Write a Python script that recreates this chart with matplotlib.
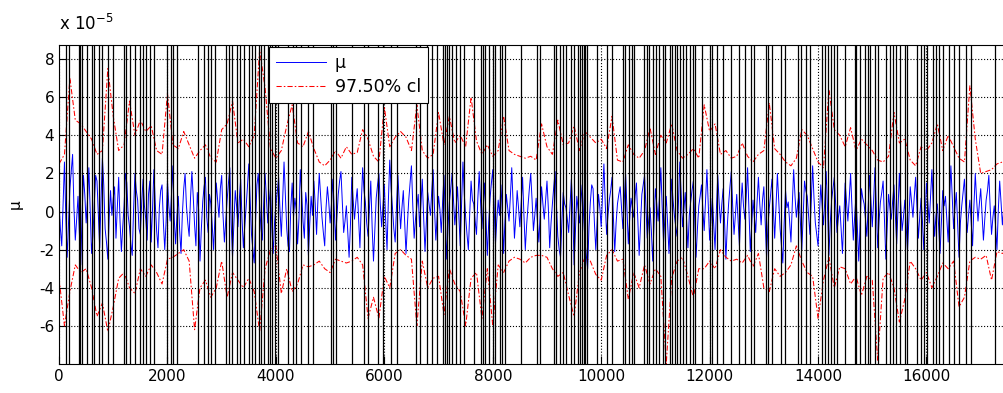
import numpy as np
import matplotlib
matplotlib.use("Agg")
import matplotlib.pyplot as plt
from matplotlib.ticker import FuncFormatter

# mean estimate (units of 1e-5), sampled every 25
mu_step = 25
mu_vals = [
    0.5, -0.9, -1.8, 0.4, 2.6, -0.3, -2.4, -0.6, 1.2, 2.1,
    3.0, 0.2, -1.5, -0.4, 0.8, -1.1, -2.8, -0.2, 1.9, 0.9,
    -0.6, 0.6, 2.3, 0.1, -2.2, -1.3, 0.4, 1.9, 1.6, -0.2,
    -1.9, 0.7, 2.8, 1.4, -0.9, -1.6, -2.5, -0.3, 1.1, -0.2,
    0.7, 1.3, -1.4, 0.2, 1.8, -0.5, -2.1, -0.8, 0.3, 2.0,
    1.5, -0.2, -0.8, -1.7, -2.3, 0.1, 2.0, 1.1, 0.6, -0.9,
    -1.2, 0.5, 1.7, 0.3, -0.4, -1.5, 0.9, 1.6, -1.6, 0.2,
    2.2, 0.4, -1.0, -1.9, 0.2, 1.1, 1.4, -0.6, -2.0, -0.5,
    1.6, 0.3, -0.5, 0.9, 2.4, -0.4, -1.7, -0.2, 0.8, -1.0,
    -2.2, -0.1, 1.2, 2.0, 0.3, -0.6, -1.3, 0.7, 2.1, 0.8,
    -0.7, -1.8, 1.0, 0.1, -2.6, -0.9, 0.5, 1.3, 1.8, -0.3,
    -1.1, 0.9, 0.4, -0.7, -2.0, -0.4, 1.5, 0.6, -0.3, 1.2,
    1.9, -0.2, -1.6, -0.5, 0.6, 1.5, 2.3, -0.6, -2.4, -0.7,
    1.1, 0.3, -0.8, 0.6, 1.7, -0.4, -1.9, -0.8, 0.2, 1.3,
    2.5, 0.6, -1.2, -2.0, -2.7, -0.5, 1.4, 2.0, 0.3, -0.9,
    -1.5, 0.4, 2.0, 0.7, -0.6, 0.5, 1.2, -0.8, -2.2, -0.6,
    0.4, 1.0, 1.8, 0.1, -1.3, 0.6, 2.6, 0.9, -0.9, -1.8,
    -2.1, 0.2, 1.5, -0.3, 0.7, 0.1, -1.7, -0.4, 2.2, 1.0,
    -0.5, -1.4, 1.0, 0.3, -2.3, -0.6, 0.8, -0.2, 1.6, 0.4,
    -1.2, 0.6, 2.0, 0.8, -0.3, -1.1, -1.8, 0.2, 1.3, 0.5,
    -0.6, 0.4, 1.7, 0.2, -1.5, -0.3, 0.9, 1.6, 2.1, 0.5,
    -1.1, -0.5, 0.3, -1.0, -2.4, -0.7, 1.8, 0.6, -0.4, 0.5,
    1.2, -0.3, -1.9, 0.4, 2.3, 1.1, 0.5, -0.6, -1.3, 0.2,
    1.6, -0.8, -2.6, -1.0, 0.7, 1.4, 2.0, 0.4, -0.8, 0.3,
    1.4, -0.5, -2.0, 0.6, 2.7, 1.2, 0.2, -0.9, -1.6, 0.3,
    1.9, 0.5, -0.9, 0.2, 1.1, -0.6, -2.2, -0.7, 0.6, 1.5,
    2.4, 0.3, -1.4, -0.4, 0.3, 0.9, -0.8, 0.4, 1.7, -0.3,
    -2.1, -0.5, 1.0, 0.4, -0.2, 1.1, 2.2, 0.2, -1.5, -0.2,
    0.8, 0.1, -1.1, 0.5, 1.9, -0.4, -2.5, -0.8, 0.5, 1.2,
    2.0, 0.6, -0.7, 0.2, 1.3, -0.2, -1.8, 0.4, 2.6, 0.9,
    -0.3, -1.2, -2.0, -0.1, 1.6, 0.6, 0.4, -0.5, -1.2, 0.7,
    2.1, 0.5, -0.9, 0.3, 1.5, -0.4, -2.3, -0.6, 0.7, 1.5,
    2.2, 0.3, -1.7, -0.4, 0.6, -0.2, 1.4, 0.1, -2.2, -0.5,
    0.9, 0.2, -0.5, 0.8, 2.3, 0.4, -1.4, -0.3, 1.1, 0.2,
    -0.8, 0.5, 1.8, -0.2, -2.0, -0.7, 0.3, 1.2, 2.0, 0.6,
    -1.0, -0.2, 0.7, -0.6, -1.6, -0.1, 1.3, 0.4, -0.4, 0.6,
    1.6, 0.2, -1.9, -0.6, 0.4, 1.3, 2.1, 0.3, -1.3, -2.0,
    -2.4, -0.5, 1.0, 0.4, 0.2, -0.4, -1.1, 0.3, 1.7, 0.1,
    -2.8, -1.0, 0.8, 0.1, -0.6, 0.5, 1.4, -0.2, -1.5, -2.3,
    -3.0, -0.8, 0.5, 1.4, 1.2, -0.6, -2.0, -0.5, 0.9, 0.2,
    -0.8, 0.9, 2.5, 0.4, -1.2, -0.2, 0.6, 1.1, 1.8, -0.3,
    -2.1, -0.6, 0.4, 0.9, 1.3, 0.2, -0.9, 0.6, 2.0, 0.1,
    -1.7, -0.4, 0.7, 0.2, -0.3, 0.8, 1.5, -0.4, -2.3, -0.7,
    0.9, 1.4, 1.9, 0.3, -1.4, -0.5, 0.2, -1.0, -2.6, -0.6,
    1.2, 0.4, -0.5, 0.8, 2.3, 0.2, -1.6, -0.3, 0.8, -0.6,
    -2.2, -0.4, 1.7, 0.6, -0.2, -0.8, -1.3, 0.5, 2.6, 0.9,
    -0.8, 0.1, 1.0, -0.5, -1.9, -0.2, 0.5, 1.1, 1.6, -0.4,
    -2.4, -0.9, 0.3, 0.8, 1.4, 0.1, -1.0, 0.6, 2.2, 0.4,
    -1.5, -0.4, 0.7, -0.6, -2.0, 0.1, 1.9, 0.5, -0.6, 0.4,
    1.2, -0.5, -2.5, -0.8, 0.4, 1.3, 2.1, 0.3, -1.2, -0.2,
    0.9, -0.4, -1.8, 0.2, 1.5, 0.3, -0.4, 0.8, 2.3, 0.1,
    -2.1, -0.7, 0.6, -0.3, -1.1, 0.5, 1.8, 0.4, -0.7, 0.6,
    1.3, -0.5, -2.4, -0.8, 0.2, 0.9, 1.7, 0.2, -1.4, 0.3,
    2.0, 0.5, -0.9, -1.8, -2.7, -0.6, 1.1, 0.2, 0.5, -0.5,
    -1.6, 0.4, 2.2, 0.8, -0.3, 0.4, 1.0, -0.6, -2.0, -0.3,
    1.6, 1.1, 0.8, -0.2, -1.2, 0.6, 2.4, 0.7, -0.6, -1.2,
    -1.8, -0.2, 1.4, 0.3, -0.7, 0.6, 2.1, 0.1, -2.3, -0.6,
    0.6, 1.2, 1.8, 0.4, -1.1, -0.3, 0.3, -0.9, -2.2, -0.4,
    1.5, 0.5, -0.5, 0.7, 2.0, 0.2, -1.5, -0.3, 0.9, -0.8,
    -2.6, -0.7, 1.2, 0.7, 0.4, -0.4, -1.3, 0.3, 1.9, 0.5,
    -0.8, 0.6, 2.3, 0.2, -1.9, -0.5, 0.5, 1.0, 1.6, -0.4,
    -2.5, -0.8, 0.9, 0.2, -0.4, 0.5, 1.4, -0.2, -1.7, 0.1,
    2.0, 0.4, -1.0, -0.3, 0.6, -0.7, -2.1, -0.4, 1.3, 0.5,
    -0.3, 0.8, 1.8, 0.2, -1.4, -0.3, 0.7, -0.5, -2.0, -0.2,
    1.5, 0.5, -0.6, 0.8, 2.2, 0.3, -1.3, -0.2, 0.4, -0.8,
    -2.2, -0.5, 1.1, 0.3, 0.8, -0.4, -1.6, 0.6, 2.4, 0.8,
    -0.9, 0.2, 1.0, -0.7, -2.4, -0.6, 0.3, 1.0, 1.7, 0.2,
    -1.1, -0.2, 0.6, -0.6, -1.8, 0.3, 2.0, 0.6, -0.5, 0.4,
    1.2, -0.2, -1.5, -0.4, 0.6, 1.1, 1.9, 0.2, -1.2, -0.3,
    0.3, -0.8, -2.0, 0.1, 1.6, 0.5, -0.7, 0.2, 1.0, 0.8,
    0.4,
]

# 97.5% confidence limits (units of 1e-5), sampled every 100
cl_step = 100
cl_upper = [
    2.5, 3.0, 7.0, 4.8, 4.6, 4.2, 3.8, 3.0, 3.2, 7.5, 5.0, 3.2, 3.5, 5.8, 4.0, 4.8, 4.2, 4.5, 3.2, 3.0,
    6.2, 3.5, 3.3, 4.2, 3.5, 2.8, 3.2, 3.5, 2.8, 2.6,
    4.3, 4.6, 5.8, 3.6, 3.8, 3.4, 4.0, 8.5, 6.5, 3.3, 2.8, 3.2, 4.5, 5.6, 3.6, 3.4, 4.2, 3.3, 2.6, 2.4,
    2.7, 3.2, 2.8, 3.4, 3.0, 3.1, 4.3, 3.8, 2.9,
    2.6, 5.5, 3.4, 3.9, 4.2, 3.9, 3.2, 5.6, 3.2, 2.8, 3.0, 5.2, 3.5, 5.0, 3.6, 4.0, 3.4, 6.0, 3.7, 3.0,
    3.5, 2.9, 3.2, 5.0, 3.2, 3.0, 2.9, 2.8, 2.9, 2.7,
    4.6, 3.4, 3.0, 4.8, 3.5, 3.6, 4.5, 3.2, 4.2, 3.9, 3.6, 3.8, 3.3, 5.0, 2.7, 2.6, 3.5, 3.0, 2.8, 3.2,
    4.4, 3.0, 4.0, 3.6, 4.6, 3.2, 2.8, 3.0, 3.3, 2.8,
    5.6, 4.2, 4.6, 3.0, 3.2, 2.8, 2.9, 3.6, 2.9, 2.6, 3.0, 3.2, 5.7, 3.3, 3.0, 2.6, 2.4, 2.8, 4.3, 4.0,
    3.3, 2.6, 2.3, 6.4, 4.3, 4.0, 3.4, 4.4, 3.2,
    3.8, 3.5, 3.2, 2.7, 2.6, 2.9, 5.2, 3.6, 3.8, 2.7, 2.4, 3.4, 3.2, 3.6, 4.6, 3.2, 4.0, 3.4, 2.8, 2.6,
    6.6, 3.8, 2.0, 2.1, 2.2, 2.5, 2.6, 2.4,
]
cl_lower = [
    -3.5, -6.0, -4.2, -2.8, -3.2, -3.0, -4.0, -5.5, -4.8, -6.3, -5.0, -3.5, -3.2, -4.0, -4.3, -3.0, -3.4, -2.8, -3.2, -3.8,
    -2.5, -2.4, -2.2, -2.0, -2.6, -6.2, -4.0, -3.6, -4.5, -4.0,
    -2.6, -4.5, -3.2, -3.6, -4.0, -3.5, -4.2, -6.3, -3.0, -2.0, -1.8, -4.3, -3.0, -4.2, -3.8, -2.8, -2.9, -2.8, -2.6, -3.0,
    -3.2, -2.5, -2.6, -2.7, -2.6, -2.4, -2.8, -5.6, -4.5,
    -5.6, -3.4, -4.0, -2.2, -2.0, -2.3, -2.5, -6.0, -2.6, -4.0, -3.5, -3.4, -5.4, -3.0, -3.8, -4.2, -6.0, -3.5, -3.2, -5.6,
    -3.0, -6.0, -2.8, -3.2, -2.6, -2.4, -2.5, -2.7, -2.4, -2.3,
    -2.3, -2.4, -3.0, -3.4, -3.2, -4.4, -5.5, -3.2, -2.4, -2.6, -3.3, -3.6, -2.3, -2.0, -2.6, -2.5, -4.6, -3.2, -4.0, -2.8,
    -3.8, -3.0, -3.4, -8.0, -3.5, -2.6, -2.4, -3.4, -4.5, -3.0,
    -3.0, -2.6, -3.0, -2.0, -2.4, -2.6, -2.5, -2.7, -2.3, -2.9, -2.2, -4.0, -4.2, -3.0, -3.4, -3.2, -2.8, -1.8, -2.6, -3.2,
    -3.4, -5.6, -3.6, -2.4, -4.0, -2.9, -3.0, -3.8, -3.4,
    -4.4, -3.4, -3.6, -7.8, -3.5, -3.2, -4.0, -5.8, -4.6, -2.6, -3.0, -3.6, -3.2, -4.0, -3.4, -2.7, -3.0, -2.6, -5.0, -4.5,
    -2.6, -2.4, -2.5, -2.3, -3.6, -2.1, -2.2, -2.0,
]

# positions of the flagged samples (vertical black lines)
event_x = [
    130, 185, 360, 389, 420, 519, 611, 648, 741, 796, 907, 1000, 1204, 1240, 1315, 1408, 1500, 1556, 1611, 1685,
    1759, 2000, 2056, 2111, 2185, 2556, 2667, 2741, 2797, 2871,
    3074, 3130, 3185, 3278, 3334, 3408, 3500, 3556, 3611, 3685, 3723, 3778, 3852, 3889, 3920, 3982, 4037, 4223,
    4315, 4371, 4463, 4593, 4686, 5019, 5056, 5112, 5408, 5630, 5704,
    5889, 5982, 6130, 6241, 6593, 6649, 6778, 6871, 6964, 7075, 7112, 7150, 7186, 7241, 7315, 7389, 7464, 7649,
    7778, 7815, 7852, 7927, 8001, 8038, 8130, 8167, 8223, 8519, 8816,
    8871, 9130, 9167, 9241, 9297, 9353, 9445, 9501, 9575, 9612, 9649, 9675, 9704, 9742, 9927, 10112, 10205, 10408,
    10445, 10519, 10575, 10612, 10797, 10853, 10890, 10964, 11019, 11075, 11131, 11168, 11260, 11297, 11353,
    11390, 11445, 11501, 11556, 11631, 11686, 11723,
    11853, 12001, 12038, 12131, 12242, 12390, 12538, 12649, 12760, 12816, 13038, 13075, 13149, 13316, 13390,
    13631, 13686, 13779, 13853, 14075, 14131, 14186, 14242, 14297, 14353, 14501, 14686,
    14705, 14779, 14872, 14927, 14964, 15057, 15112, 15260, 15335, 15390, 15446, 15520, 15612, 15649, 15816,
    15890, 15946, 16001, 16112, 16168, 16224, 16298, 16409, 16501, 16594, 16724, 16816, 17261,
]

scale = 1e-5
mu_x = np.arange(len(mu_vals)) * mu_step
cl_x = np.arange(len(cl_upper)) * cl_step

fig = plt.figure(figsize=(10.04, 3.93), dpi=100)
ax = fig.add_axes([0.0588, 0.0738, 0.945, 0.8117])

ax.plot(mu_x, np.array(mu_vals) * scale, color="#0000ff", lw=0.7, label="μ", zorder=2)
ax.plot(cl_x, np.array(cl_upper) * scale, color="#ff0000", lw=0.75, dashes=(5, 2, 1.5, 2),
        label="97.50% cl", zorder=2)
ax.plot(cl_x, np.array(cl_lower) * scale, color="#ff0000", lw=0.75, dashes=(5, 2, 1.5, 2), zorder=2)

ax.vlines(event_x, 0, 1, transform=ax.get_xaxis_transform(), colors="black", lw=0.9, zorder=3)

ax.set_xlim(0, 17500)
ax.set_ylim(-8.0e-5, 8.74e-5)
ax.set_xticks(np.arange(0, 17000, 2000))
ax.set_yticks(np.arange(-6, 9, 2) * scale)
ax.yaxis.set_major_formatter(FuncFormatter(lambda v, p: f"{v / scale:.0f}"))
ax.grid(True, color="black", ls=":", lw=0.8)
ax.tick_params(direction="in", length=6, labelsize=11, top=False, right=False)
for s in ax.spines.values():
    s.set_linewidth(0.8)

ax.text(0.0, 1.035, r"x 10$^{-5}$", transform=ax.transAxes, fontsize=12, ha="left", va="bottom")
ax.set_ylabel("μ", fontsize=11, labelpad=12)

leg = ax.legend(loc="upper left", bbox_to_anchor=(0.221, 0.994), borderaxespad=0,
                fancybox=False, edgecolor="black", framealpha=1, fontsize=12.5,
                handlelength=2.9, handletextpad=0.5, borderpad=0.4, labelspacing=0.35)
leg.get_frame().set_linewidth(0.8)
leg.set_zorder(5)

fig.savefig("out.png", dpi=100)
